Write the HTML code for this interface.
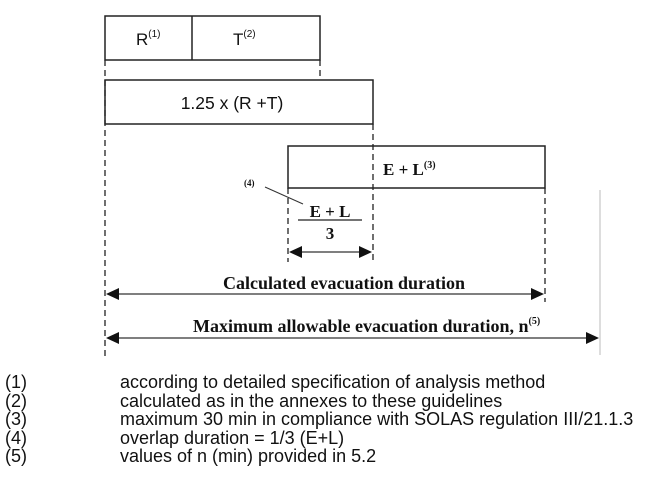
<!DOCTYPE html>
<html><head><style>
body{margin:0;background:#fff;width:663px;height:499px;overflow:hidden;position:relative;font-family:"Liberation Sans",sans-serif}
.leg{position:absolute;font-size:18px;color:#111;line-height:18.5px}
</style></head><body>
<svg width="663" height="499" style="position:absolute;left:0;top:0" font-family="Liberation Serif, serif">
<g stroke="#222" stroke-width="1.5" fill="none">
<rect x="105" y="16" width="215" height="44"/>
<line x1="192" y1="16" x2="192" y2="60"/>
<rect x="105" y="80" width="268" height="44"/>
<rect x="288" y="146" width="257" height="42"/>
</g>
<g stroke="#222" stroke-width="1.3" stroke-dasharray="6,4" fill="none">
<line x1="105" y1="60" x2="105" y2="358"/>
<line x1="320" y1="60" x2="320" y2="80"/>
<line x1="373" y1="124" x2="373" y2="262"/>
<line x1="288" y1="188" x2="288" y2="262"/>
<line x1="545" y1="188" x2="545" y2="302"/>
</g>
<line x1="600" y1="190" x2="600" y2="355" stroke="#bbb" stroke-width="1"/>
<line x1="265" y1="187" x2="303" y2="204" stroke="#333" stroke-width="1"/>
<line x1="298" y1="220" x2="362" y2="220" stroke="#222" stroke-width="1.3"/>
<g stroke="#333" stroke-width="1.3">
<line x1="292" y1="252" x2="369" y2="252"/>
<line x1="109" y1="294" x2="541" y2="294"/>
<line x1="109" y1="338" x2="596" y2="338"/>
</g>
<g fill="#111">
<polygon points="289,252 302,246 302,258"/><polygon points="372,252 359,246 359,258"/>
<polygon points="106,294 119,288 119,300"/><polygon points="544,294 531,288 531,300"/>
<polygon points="106,338 119,332 119,344"/><polygon points="599,338 586,332 586,344"/>
</g>
<g font-family="Liberation Sans, sans-serif" fill="#111">
<text x="136" y="45" font-size="17">R<tspan font-size="10" dy="-8">(1)</tspan></text>
<text x="233" y="45" font-size="17">T<tspan font-size="10" dy="-8">(2)</tspan></text>
<text x="232" y="109" font-size="17.5" text-anchor="middle">1.25 x (R +T)</text>
</g>
<g fill="#111" font-weight="bold">
<text x="383" y="175" font-size="17">E + L<tspan font-size="10" dy="-7">(3)</tspan></text>
<text x="244" y="186" font-size="9">(4)</text>
<text x="330" y="217" font-size="17" text-anchor="middle">E + L</text>
<text x="330" y="239" font-size="17" text-anchor="middle">3</text>
<text x="344" y="289" font-size="18" text-anchor="middle">Calculated evacuation duration</text>
<text x="193" y="332" font-size="18">Maximum allowable evacuation duration, n<tspan font-size="10" dy="-8">(5)</tspan></text>
</g>
</svg>
<div class="leg" style="left:5px;top:373px">(1)<br>(2)<br>(3)<br>(4)<br>(5)</div>
<div class="leg" style="left:120px;top:373px">according to detailed specification of analysis method<br>calculated as in the annexes to these guidelines<br>maximum 30 min in compliance with SOLAS regulation III/21.1.3<br>overlap duration = 1/3 (E+L)<br>values of n (min) provided in 5.2</div>
</body></html>
